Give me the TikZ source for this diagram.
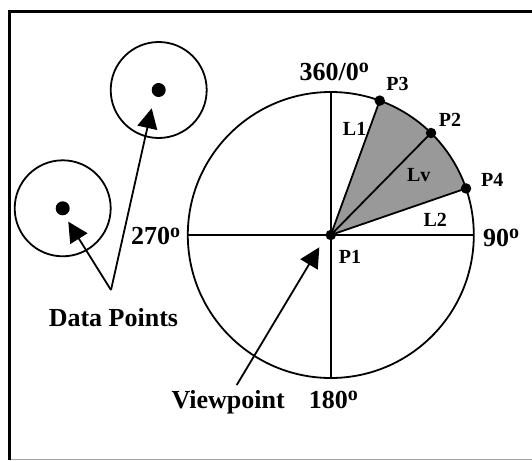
\documentclass[tikz,border=0pt]{standalone}
\usepackage{fontspec}
\setmainfont{Liberation Serif}
\usetikzlibrary{arrows.meta}
\definecolor{sectorgray}{RGB}{153,153,153}
% small raised "o" used as the degree mark
\newcommand\ordo{\raisebox{7.5pt}{\fontsize{20}{20}\selectfont o}}

\begin{document}
\begin{tikzpicture}[x=1pt,y=-1pt,
  line width=1.8pt,
  big/.style={font=\fontsize{26}{26}\selectfont\bfseries, inner sep=0pt, anchor=base},
  small/.style={font=\fontsize{20}{20}\selectfont\bfseries, inner sep=0pt, anchor=base},
  pdot/.style={circle, fill=black, inner sep=0pt, minimum size=10.5pt},
  datadot/.style={circle, fill=black, inner sep=0pt, minimum size=14pt},
  ring/.style={circle, draw, line width=1.8pt, minimum size=96pt, inner sep=0pt},
  pointer/.style={-{Triangle[length=20pt,width=20pt]}, line width=1.8pt},
]
\useasboundingbox (0,0) rectangle (532,460);

% frame
\draw[line width=2.8pt] (9.5,460) -- (9.5,11.3) -- (532,11.3);
\draw[black!35, line width=0.8pt] (11,459.5) -- (532,459.5);

% viewing circle centred on P1
\coordinate (c) at (330.8,235);
\fill[sectorgray] (c) -- ++(-70:143) arc[start angle=-70, end angle=-19, radius=143] -- cycle;
\draw (c) circle[radius=143];
\coordinate (W) at (187.8,235);
\coordinate (E) at (473.8,235);
\coordinate (N) at (330.8,92);
\coordinate (S) at (330.8,378);
\draw (W) -- (E);
\draw (N) -- (S);

% points on the rim
\path (c) ++(-70:143) node[pdot] (p3) {};
\path (c) ++(-45.5:143) node[pdot] (p2) {};
\path (c) ++(-19:143) node[pdot] (p4) {};
\node[pdot] (p1) at (c) {};
\draw (p1.center) -- (p3.center);
\draw (p1.center) -- (p2.center);
\draw (p1.center) -- (p4.center);

% data points
\node[ring] (ringA) at (158.7,90) {};
\node[datadot] (dA) at (158.7,90) {};
\node[ring] (ringB) at (62.7,208.3) {};
\node[datadot] (dB) at (62.7,208.3) {};

\coordinate (dpfoot) at (111,290);
\coordinate (tipA) at (151.7,108.3);
\coordinate (tipB) at (68.3,221.7);
\draw[pointer] (dpfoot) -- (tipA);
\draw[pointer] (dpfoot) -- (tipB);

\coordinate (vpfoot) at (236.7,385);
\coordinate (tipV) at (319.3,247.3);
\draw[pointer] (vpfoot) -- (tipV);

% labels
\node[big] (t0) at (334.3,80) {360/0\ordo};
\node[big] (t90) at (501,246) {90\ordo};
\node[big] (t270) at (155.5,244.5) {270\ordo};
\node[big] (t180) at (333.4,408.3) {180\ordo};
\node[big] (tdp) at (113.4,326.7) {Data Points};
\node[big] (tvp) at (228.2,408.3) {Viewpoint};

\node[small] (lp3) at (397.5,90.7) {P3};
\node[small] (lp2) at (450,126) {P2};
\node[small] (lp4) at (492.2,186) {P4};
\node[small] (lp1) at (349.9,263.3) {P1};
\node[small] (ll1) at (354.6,135) {L1};
\node[small] (llv) at (418.7,181.7) {Lv};
\node[small] (ll2) at (435.2,226.7) {L2};
\end{tikzpicture}
\end{document}
